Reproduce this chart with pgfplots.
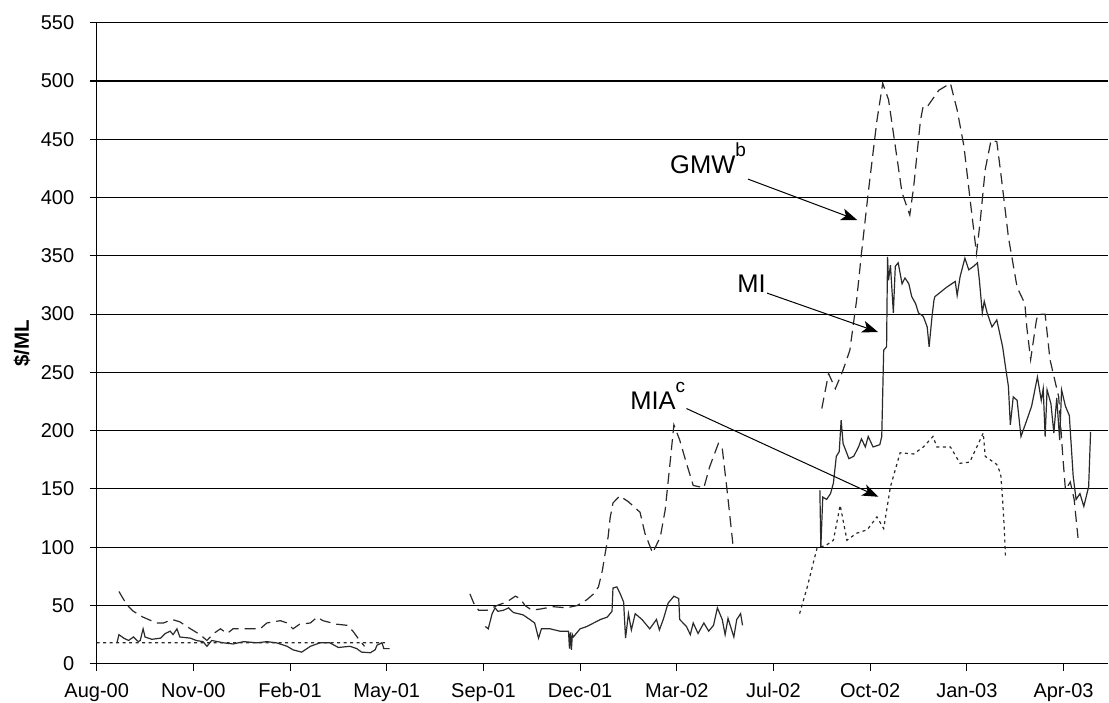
\documentclass[border=0pt]{standalone}
\usepackage{pgfplots}
\pgfplotsset{compat=1.18}
\usepackage{fontspec}
\setmainfont{Liberation Sans}
\usetikzlibrary{arrows.meta}

\definecolor{series}{HTML}{2A2A2A}
\newcommand{\supmark}[1]{\raisebox{17pt}{\fontsize{19}{20}\selectfont #1}}

\begin{document}
\begin{tikzpicture}
\begin{axis}[
  width=1011.3pt, height=641.1pt, scale only axis,
  xmin=0, xmax=1046, ymin=0, ymax=550,
  axis lines*=left,
  axis line style={black, line width=1.1pt},
  tick align=outside, major tick length=7pt,
  tick style={black, line width=1.1pt},
  xtick={0,100,...,1000},
  xticklabels={Aug-00,Nov-00,Feb-01,May-01,Sep-01,Dec-01,Mar-02,Jul-02,Oct-02,Jan-03,Apr-03},
  ytick={0,50,...,550},
  ymajorgrids, grid style={black, line width=1.1pt},
  tick label style={font=\fontsize{20}{22}\selectfont},
  xticklabel style={yshift=-9pt},
  yticklabel style={xshift=-12pt},
  /pgf/number format/assume math mode=true,
  ylabel={\bfseries\$/ML},
  ylabel style={font=\fontsize{20.5}{22}\selectfont, at={(axis description cs:-0.0739,0.5)}, anchor=center},
  unbounded coords=jump,
  clip=false,
]

% GMW (dashed)
\addplot[series, line width=1.2pt, dash pattern=on 11pt off 6pt] coordinates {
  (23,62)(28,55)(33,49)(38,45)(48,40)(62,35)(69,35)(78,38)(86,36)(97,30)
  (107,25)(114,20)(121,26)(128,30)(135,26)(141,30)(152,30)(169,30)(176,35)
  (190,37)(197,35)(203,30)(210,34)(221,35)(228,40)(234,37)(248,34)(259,33)
  (265,28)(272,20)(277,15)
  (290,nan)
  (386,60)(390,52)(395,46)(404,46)(414,50)(424,53)(433,58)(438,56)(443,50)
  (450,46)(459,47)(472,49)(486,48)(497,50)(507,55)(514,60)(519,66)(523,80)
  (526,95)(529,109)(531,125)(534,138)(541,144)(550,139)(562,130)(567,112)
  (575,95)(583,109)(588,132)(593,172)(597,205)(603,192)(610,172)(617,153)
  (628,151)(634,169)(643,189)(647,185)(652,149)(658,103)
  (700,nan)
  (750,219)(757,249)(764,236)(772,252)(779,269)(786,312)(791,352)(798,404)
  (807,466)(813,498)(819,484)(826,444)(833,404)(841,385)(845,409)(852,466)
  (855,479)(860,479)(871,492)(883,498)(890,475)(897,444)(903,401)(910,352)
  (914,381)(919,424)(925,449)(931,448)(936,415)(943,366)(952,323)(960,309)
  (962,289)(966,261)(972,295)(974,300)(981,300)(986,261)(995,229)(999,181)
  (1002,149)(1007,156)(1011,141)(1015,108)
};

% MI (solid)
\addplot[series, line width=1.2pt] coordinates {
  (21,18)(23,25)(28,22)(33,20)(38,23)(43,19)(45,20)(48,30)(50,23)(57,21)
  (66,22)(71,26)(76,28)(79,25)(83,30)(86,23)(97,22)(103,20)(110,19)(114,15)
  (119,20)(131,18)(141,17)(152,19)(166,18)(176,19)(186,18)(197,15)(203,12)
  (212,10)(221,15)(231,18)(241,18)(250,14)(262,15)(269,13)(274,10)(283,9.5)
  (288,12)(290,16)(295,18)(297,13)(303,13)
  (350,nan)
  (402,32)(405,30)(409,43)(412,48)(415,45)(421,46)(426,48)(431,44)(436,43)
  (441,42)(448,38)(453,35)(457,22)(460,30)(469,30)(479,28)(488,28)(489,13)
  (490,27)(491,12)(492,25)(493,23)(500,30)(507,32)(514,35)(521,38)(528,40)
  (533,45)(534,65)(538,66)(541,61)(545,53)(547,22)(550,43)(553,29)(557,43)
  (564,38)(572,30)(579,38)(582,29)(586,38)(591,52)(597,58)(602,56)(603,38)
  (610,32)(614,25)(617,35)(622,26)(628,35)(633,28)(638,33)(642,48)(647,38)
  (650,25)(653,39)(659,23)(662,38)(666,43)(668,33)
  (700,nan)
  (748,149)(749,100)(751,143)(755,141)(759,146)(762,155)(765,178)(768,182)
  (770,209)(772,189)(778,176)(783,178)(788,186)(791,193)(795,186)(798,195)
  (803,186)(810,188)(812,195)(813,232)(814,269)(817,272)(817.5,312)(818,349)
  (819,329)(821,342)(824,301)(826,341)(829,344)(833,326)(836,331)(840,326)
  (843,315)(847,309)(850,301)(855,298)(859,289)(861,272)(864,298)(866,312)
  (867,315)(879,323)(888,328)(890,316)(893,332)(898,348)(902,338)(907,341)
  (911,344)(913,329)(916,301)(918,311)(921,301)(926,289)(931,295)(937,272)
  (941,249)(943,238)(945,205)(948,229)(952,226)(956,195)(962,209)(967,221)
  (973,246)(977,226)(979,236)(981,195)(983,235)(987,223)(990,198)(993,228)
  (996,192)(998,235)(1002,221)(1006,213)(1010,161)(1013,141)(1017,146)
  (1021,135)(1026,152)(1028,199)
};

% MIA (dotted)
\addplot[series, line width=1.2pt, dash pattern=on 3pt off 3.5pt] coordinates {
  (0,18)(298,18)
  (350,nan)
  (727,43)(735,66)(741,86)(745,99)(755,102)(762,106)(769,136)(776,106)
  (786,112)(797,115)(807,126)(814,116)(821,152)(831,181)(845,180)(855,186)
  (865,195)(869,186)(883,186)(893,172)(903,173)(912,189)(917,198)(919,178)
  (931,171)(935,163)(937,141)(939,112)(940,91)
};

% annotations
\node[anchor=base west, inner sep=0pt, font=\fontsize{25.5}{28}\selectfont]
  at (axis cs:593,420.8) {GMW\supmark{b}};
\node[anchor=base west, inner sep=0pt, font=\fontsize{25.5}{28}\selectfont]
  at (axis cs:662.4,318.9) {MI};
\node[anchor=base west, inner sep=0pt, font=\fontsize{25.5}{28}\selectfont]
  at (axis cs:551.8,218.3) {MIA\supmark{c}};
\draw[black, line width=1pt, -{Stealth[length=16pt, width=12pt, inset=4pt]}]
  (axis cs:673.7,415.8) -- (axis cs:786.6,380.7);
\draw[black, line width=1pt, -{Stealth[length=16pt, width=12pt, inset=4pt]}]
  (axis cs:693.4,318) -- (axis cs:808.2,284.6);
\draw[black, line width=1pt, -{Stealth[length=16pt, width=12pt, inset=4pt]}]
  (axis cs:610,219) -- (axis cs:808.5,143.3);

\end{axis}
\pgfresetboundingbox
\useasboundingbox (-96.7pt,-39.2pt) rectangle (1012.3pt,663.8pt);
\end{tikzpicture}
\end{document}
